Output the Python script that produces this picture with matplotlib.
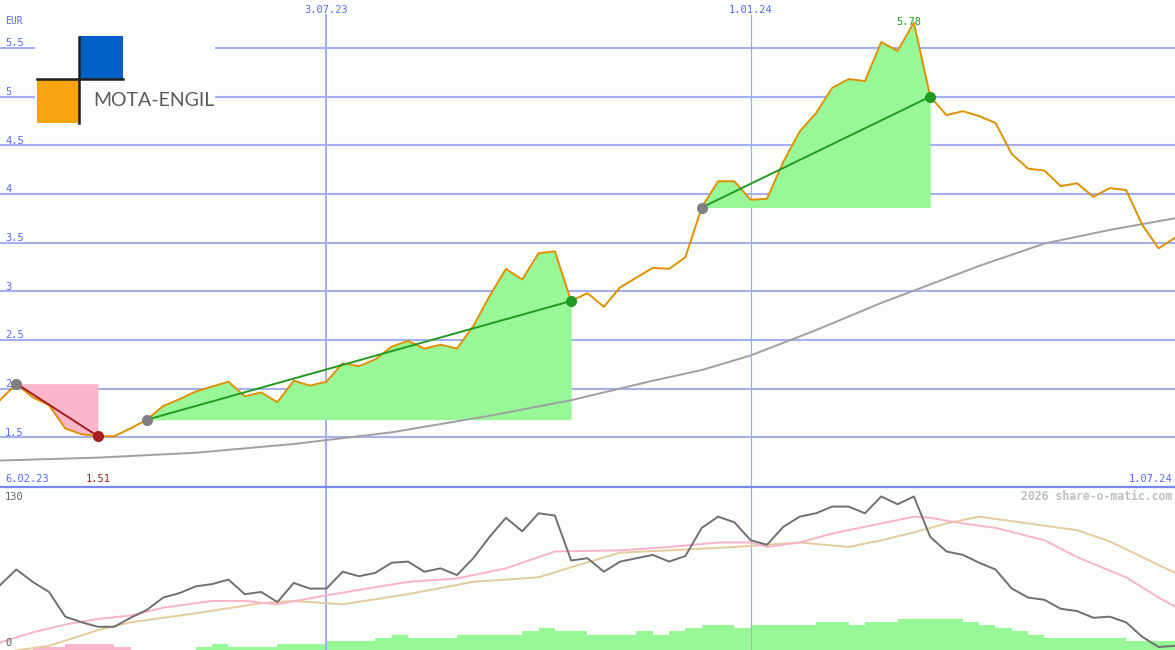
"""
Mota-Engil Kursverlauf mit Trendsegmenten und Indikatorpanel
"""

import numpy as np
import pandas as pd
import matplotlib
matplotlib.use('Agg')
import matplotlib.pyplot as plt
import matplotlib.dates as mdates
from matplotlib.lines import Line2D
from matplotlib.patches import Rectangle
from matplotlib.transforms import offset_copy

# weekly closes (EUR)
weeks = pd.date_range('2023-02-13', periods=73, freq='7D')
close = [1.88, 2.05, 1.91, 1.83, 1.59, 1.53, 1.51, 1.51, 1.59, 1.68,
         1.82, 1.89, 1.97, 2.02, 2.07, 1.92, 1.96, 1.86, 2.08, 2.03,
         2.07, 2.26, 2.23, 2.30, 2.43, 2.49, 2.41, 2.45, 2.41, 2.64,
         2.95, 3.23, 3.12, 3.39, 3.41, 2.90, 2.98, 2.84, 3.04, 3.14,
         3.24, 3.23, 3.35, 3.86, 4.13, 4.13, 3.94, 3.95, 4.33, 4.64,
         4.83, 5.09, 5.18, 5.16, 5.56, 5.47, 5.76, 5.00, 4.81, 4.85,
         4.80, 4.73, 4.41, 4.26, 4.24, 4.08, 4.11, 3.97, 4.06, 4.04,
         3.68, 3.44, 3.55]

# long moving average (read at selected weeks)
ma_idx = [0, 6, 12, 18, 24, 30, 35, 40, 43, 46, 50, 54, 57, 60, 64, 68, 72]
ma_vals = [1.26, 1.29, 1.34, 1.43, 1.55, 1.72, 1.88, 2.08, 2.19, 2.34,
           2.60, 2.88, 3.07, 3.26, 3.49, 3.63, 3.75]

# trend segments: (start week, end week, direction)
segments = [(1, 6, 'down'), (9, 35, 'up'), (43, 57, 'up')]

price_levels = [1.5, 2, 2.5, 3, 3.5, 4, 4.5, 5, 5.5]
price_labels = ['1.5', '2', '2.5', '3', '3.5', '4', '4.5', '5', '5.5']
date_marks = ['2023-07-03', '2024-01-01']
date_mark_labels = ['3.07.23', '1.01.24']
start_label = '6.02.23'
end_label = '1.07.24'
high_label = '5.78'
low_label = '1.51'

# lower panel: momentum line and two smoothed lines
momentum = [55, 69, 58, 49, 27, 22, 18, 18, 26, 33,
            44, 48, 54, 56, 60, 47, 49, 40, 57, 52,
            52, 67, 63, 66, 75, 76, 67, 70, 64, 79,
            98, 115, 103, 119, 117, 77, 79, 67, 76, 79,
            82, 76, 81, 106, 116, 111, 95, 91, 107, 116,
            119, 125, 125, 119, 134, 127, 134, 98, 85, 82,
            75, 69, 52, 44, 42, 34, 32, 26, 27, 22,
            9, 0, 1]
pink_idx = [0, 2, 4, 6, 8, 10, 13, 15, 17, 20, 25, 28, 31, 34, 38, 41,
            44, 46, 47, 48, 49, 51, 53, 56, 57, 59, 61, 64, 66, 69, 71, 72]
pink_vals = [4, 13, 20, 25, 28, 35, 41, 41, 38, 46, 58, 61, 70, 85, 86, 89,
             93, 93, 89, 91, 93, 101, 107, 116, 115, 110, 106, 95, 80, 62, 44, 36]
tan_idx = [1, 3, 6, 8, 12, 16, 18, 21, 25, 29, 33, 35, 38, 41, 45, 47, 49,
           52, 54, 56, 58, 60, 63, 66, 68, 70, 72]
tan_vals = [-3, 1, 15, 22, 30, 39, 41, 38, 47, 58, 62, 71, 84, 86, 89, 91, 93,
            89, 95, 102, 110, 116, 110, 104, 94, 80, 66]

# histogram bars (sign = colour)
hist = [0, 0, -3, -3, -6, -6, -6, -3, 0, 0,
        0, 0, 3, 6, 3, 3, 3, 6, 6, 6,
        9, 9, 9, 12, 15, 12, 12, 12, 15, 15,
        15, 15, 19, 22, 19, 19, 15, 15, 15, 19,
        15, 19, 22, 25, 25, 22, 25, 25, 25, 25,
        28, 28, 25, 28, 28, 31, 31, 31, 31, 28,
        25, 22, 19, 15, 12, 12, 12, 12, 12, 9,
        9, 9]

BG = '#fcfefc'
GRID = '#a4b0f0'
BLUE_TXT = '#5a68f0'
ORANGE = '#e09000'
GREEN_FILL = '#98f898'
PINK_FILL = '#fbb6cc'
GREEN_LINE = '#229a22'
RED = '#a81c1c'
MONO = 'DejaVu Sans Mono'

W, H = 1175, 650
fig = plt.figure(figsize=(W / 100, H / 100), dpi=100, facecolor=BG)
split = 163 / H

x = mdates.date2num(weeks)
close = np.array(close)

# ---- price panel ----
ax = fig.add_axes([0, split, 1, 1 - split])
ax.set_xlim(x[0], x[-1])
ax.set_ylim(0.988, 5.993)
ax.axis('off')

for lvl in price_levels:
    ax.axhline(lvl, color=GRID, lw=1.5, zorder=1)

for d, lw, col in zip(date_marks, [1.5, 0.8], [GRID, '#a0a8e0']):
    ax.axvline(mdates.datestr2num(d), ymax=(487 - 15) / 487, color=col, lw=lw, zorder=1)

for s, e, kind in segments:
    xs = x[s:e + 1]
    ys = close[s:e + 1]
    if kind == 'up':
        ax.fill_between(xs, close[s], ys, color=GREEN_FILL, lw=0, zorder=2)
        ax.plot([x[s], x[e]], [close[s], close[e]], color=GREEN_LINE, lw=1.4, zorder=4)
        end_col = GREEN_LINE
    else:
        ax.fill_between(xs, ys, close[s], color=PINK_FILL, lw=0, zorder=2)
        ax.plot([x[s], x[e]], [close[s], close[e]], color=RED, lw=1.4, zorder=4)
        end_col = RED
    ax.plot(x[s], close[s], 'o', color='#808080', ms=8, mew=0, zorder=5)
    ax.plot(x[e], close[e], 'o', color=end_col, ms=8, mew=0, zorder=5)

ax.plot(x[ma_idx], ma_vals, color='#a0a0a0', lw=1.4, zorder=3)
ax.plot(x, close, color=ORANGE, lw=1.4, zorder=3)

# y labels
ytr = offset_copy(ax.get_yaxis_transform(), fig=fig, x=0, y=1.5, units='dots')
for lvl, lab in zip(price_levels, price_labels):
    ax.text(5 / W, lvl, lab, transform=ytr, fontsize=7.5, family=MONO,
            color=BLUE_TXT, va='baseline', ha='left', zorder=6)
ax.text(5 / W, 1 - 24 / 487, 'EUR', transform=ax.transAxes, fontsize=7,
        family=MONO, color=BLUE_TXT, va='baseline', ha='left')

# date labels
for d, lab in zip(date_marks, date_mark_labels):
    ax.text(mdates.datestr2num(d), 1 - 13 / 487, lab, transform=ax.get_xaxis_transform(),
            fontsize=7.5, family=MONO, color=BLUE_TXT, ha='center', va='baseline')
ax.text(5 / W, 5 / 487, start_label, transform=ax.transAxes, fontsize=7.5,
        family=MONO, color=BLUE_TXT, ha='left', va='baseline')
ax.text(1 - 3 / W, 5 / 487, end_label, transform=ax.transAxes, fontsize=7.5,
        family=MONO, color=BLUE_TXT, ha='right', va='baseline')

# high / low labels
lo_i = int(np.argmin(close))
hi_i = int(np.argmax(close))
ax.text(x[lo_i], 5 / 487, low_label, transform=ax.get_xaxis_transform(),
        fontsize=7.5, family=MONO, color=RED, ha='center', va='baseline')
htr = offset_copy(ax.transData, fig=fig, x=-5, y=-2.5, units='dots')
ax.text(x[hi_i], close[hi_i], high_label, transform=htr, fontsize=7.5,
        family=MONO, color=GREEN_LINE, ha='center', va='baseline', zorder=6)

# logo
fig.add_artist(Rectangle((35 / W, 1 - 126 / H), 180 / W, 92 / H, transform=fig.transFigure,
                         facecolor=BG, edgecolor='none', zorder=10))
fig.add_artist(Rectangle((80 / W, 1 - 80 / H), 43 / W, 44 / H, transform=fig.transFigure,
                         facecolor='#0060c8', edgecolor='none', zorder=11))
fig.add_artist(Rectangle((37 / W, 1 - 123 / H), 43 / W, 43 / H, transform=fig.transFigure,
                         facecolor='#f8a410', edgecolor='none', zorder=11))
fig.add_artist(Line2D([79 / W, 79 / W], [1 - 123 / H, 1 - 37 / H], transform=fig.transFigure,
                      color='#202020', lw=1.8, zorder=12))
fig.add_artist(Line2D([37 / W, 123 / W], [1 - 79 / H, 1 - 79 / H], transform=fig.transFigure,
                      color='#202020', lw=1.8, zorder=12))
fig.text(93 / W, 1 - 101 / H, 'MOTA-ENGIL', fontsize=14, family='Lato', color='#5a5a5a',
         ha='left', va='center', zorder=12)

# separator
fig.add_artist(Line2D([0, 1], [split, split], transform=fig.transFigure,
                      color='#7888f0', lw=1.6, zorder=12))

# ---- lower panel ----
axv = fig.add_axes([0, 0, 1, split])
axv.set_xlim(x[0], x[-1])
axv.set_ylim(0, 163)
axv.axis('off')
hist = np.array(hist)
bar_cols = [GREEN_FILL if v >= 0 else PINK_FILL for v in hist]
axv.bar(x[:-1], np.abs(hist), width=np.diff(x), align='edge', color=bar_cols, lw=0)

axl = fig.add_axes([0, 0, 1, split])
axl.set_xlim(x[0], x[-1])
axl.set_ylim(-2.67, 142.4)
axl.axis('off')
for d, lw, col in zip(date_marks, [1.5, 0.8], [GRID, '#a0a8e0']):
    axl.axvline(mdates.datestr2num(d), color=col, lw=lw, zorder=1)
axl.plot(x[tan_idx], tan_vals, color='#e4cc9c', lw=1.4, zorder=3)
axl.plot(x[pink_idx], pink_vals, color='#f8b4c8', lw=1.4, zorder=3)
axl.plot(x, momentum, color='#707070', lw=1.4, zorder=4)

axl.text(5 / W, 1 - 13 / 163, '130', transform=axl.transAxes, fontsize=7.5,
         family=MONO, color='#606060', ha='left', va='baseline')
axl.text(5 / W, 4 / 163, '0', transform=axl.transAxes, fontsize=7.5,
         family=MONO, color='#606060', ha='left', va='baseline')
axl.text(1 - 3 / W, 1 - 13 / 163, '2026 share-o-matic.com', transform=axl.transAxes,
         fontsize=8.3, family=MONO, fontweight='bold', color='#c0c0c0',
         ha='right', va='baseline')

fig.savefig('out.png', dpi=100, facecolor=BG)
